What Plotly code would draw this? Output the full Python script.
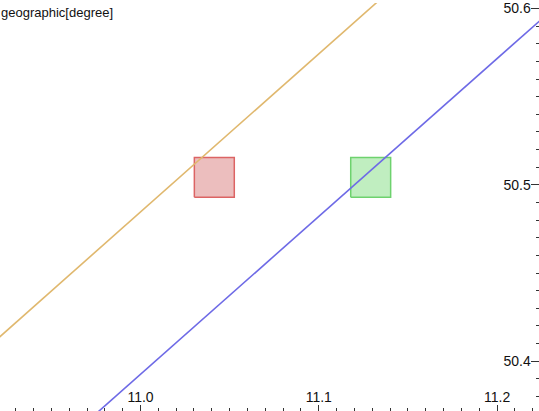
import plotly.graph_objects as go

# Data
orange_x = [10.90, 11.15]
orange_y = [50.3950, 50.6191]
blue_x = [10.96, 11.24]
blue_y = [50.3568, 50.6074]

# squares: [x0, x1], [y0, y1]
red_sq_x = [11.0302, 11.0526]
red_sq_y = [50.4930, 50.5155]
green_sq_x = [11.1179, 11.1403]
green_sq_y = [50.4930, 50.5155]

x_range = [10.9212, 11.2235]
y_range = [50.3718, 50.6031]
title_text = "geographic[degree]"

fig = go.Figure()

def square(xs, ys, fill, line):
    fig.add_trace(go.Scatter(
        x=[xs[0], xs[1], xs[1], xs[0], xs[0]],
        y=[ys[0], ys[0], ys[1], ys[1], ys[0]],
        mode="lines", fill="toself", fillcolor=fill,
        line=dict(color=line, width=1.5), hoverinfo="skip", showlegend=False))

square(red_sq_x, red_sq_y, "rgba(236,190,190,1)", "rgb(220,100,100)")
square(green_sq_x, green_sq_y, "rgba(192,238,192,1)", "rgb(110,210,110)")

fig.add_trace(go.Scatter(x=orange_x, y=orange_y, mode="lines",
                         line=dict(color="rgb(224,184,110)", width=1.6), showlegend=False))
fig.add_trace(go.Scatter(x=blue_x, y=blue_y, mode="lines",
                         line=dict(color="rgb(110,106,230)", width=1.6), showlegend=False))

tickfont = dict(family="Liberation Sans, Arial, sans-serif", size=14, color="#111")

fig.update_layout(
    width=539, height=411,
    margin=dict(l=0, r=0, t=0, b=0),
    paper_bgcolor="white", plot_bgcolor="white",
    xaxis=dict(range=x_range, showgrid=False, zeroline=False, showline=False,
               tick0=11.0, dtick=0.1, tickformat=".1f",
               ticks="inside", ticklen=6, tickwidth=1, tickcolor="#333",
               ticklabelposition="inside", ticklabeloverflow="allow",
               tickfont=tickfont,
               minor=dict(tick0=11.0, dtick=0.01, ticks="inside", ticklen=3,
                          tickwidth=1, tickcolor="#333", showgrid=False)),
    yaxis=dict(range=y_range, side="right", showgrid=False, zeroline=False, showline=False,
               tick0=50.4, dtick=0.1, tickformat=".1f",
               ticks="inside", ticklen=8, tickwidth=1, tickcolor="#333",
               ticklabelposition="inside", ticklabeloverflow="allow",
               tickfont=tickfont,
               minor=dict(tick0=50.4, dtick=0.01, ticks="inside", ticklen=3,
                          tickwidth=1, tickcolor="#333", showgrid=False)),
    annotations=[dict(text=title_text, x=0, y=1, xref="paper", yref="paper",
                      xanchor="left", yanchor="top", showarrow=False, xshift=-1,
                      font=dict(family="Liberation Sans, Arial, sans-serif", size=13, color="#111"))],
)

fig.write_html("out.html", config={"displayModeBar": False},
               post_script="document.body.style.margin='0';document.body.style.overflow='hidden';")
